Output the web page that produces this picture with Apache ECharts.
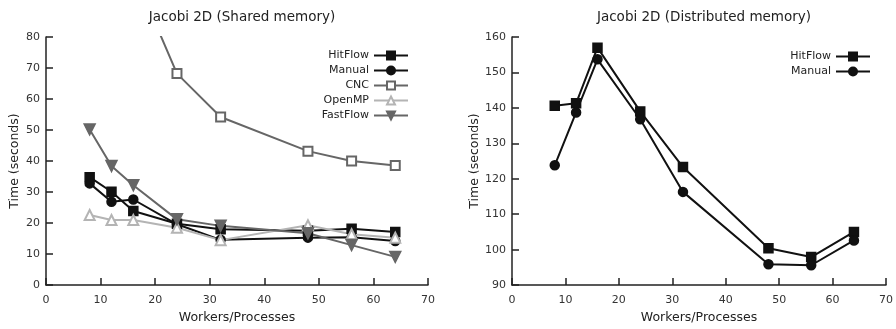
<!DOCTYPE html>
<html>
<head>
<meta charset="utf-8">
<script src="https://cdn.jsdelivr.net/npm/echarts@6/dist/echarts.min.js"></script>
<style>
  html, body { margin: 0; padding: 0; background: #fff; }
  #chart { width: 896px; height: 329px; }
</style>
</head>
<body>
<div id="chart"></div>
<script>
// workers / processes
var workers = [8, 12, 16, 24, 32, 48, 56, 64];

// shared memory (seconds)
var hitflowShared = [34.8, 30.1, 23.9, 19.8, 18.0, 17.5, 18.2, 17.1];
var manualShared = [32.8, 26.9, 27.6, 19.6, 14.6, 15.3, 15.4, 14.2];
var cncWorkers = [16, 24, 32, 48, 56, 64];
var cncShared = [101, 68.2, 54.2, 43.2, 40.0, 38.6];
var openmpShared = [22.6, 21.0, 21.0, 18.5, 14.5, 19.3, 16.4, 15.3];
var fastflowShared = [50.2, 38.4, 32.2, 21.2, 19.1, 16.7, 12.9, 9.1];

// distributed memory (seconds)
var hitflowDist = [140.6, 141.3, 157.0, 139.0, 123.3, 100.4, 97.9, 105.0];
var manualDist = [123.8, 138.7, 153.7, 136.8, 116.3, 95.9, 95.6, 102.6];

function pairs(xs, ys) {
  return xs.map(function (x, i) { return [x, ys[i]]; });
}

var font = 'DejaVu Sans';
var axisCol = '#222';

function xAx(idx) {
  return {
    type: 'value', gridIndex: idx, min: 0, max: 70, interval: 10,
    name: 'Workers/Processes', nameLocation: 'middle', nameGap: 25,
    nameTextStyle: { fontFamily: font, fontSize: 12.5, color: '#222' },
    axisLine: { lineStyle: { color: axisCol, width: 1.5 } },
    axisTick: { inside: true, length: 7, lineStyle: { color: axisCol, width: 1.5 } },
    axisLabel: { fontFamily: font, fontSize: 11, color: '#333', margin: 10 },
    splitLine: { show: false }
  };
}
function yAx(idx, min, max) {
  return {
    type: 'value', gridIndex: idx, min: min, max: max, interval: 10,
    name: 'Time (seconds)', nameLocation: 'middle', nameGap: idx === 0 ? 25 : 28,
    nameTextStyle: { fontFamily: font, fontSize: 12.5, color: '#222' },
    axisLine: { show: true, lineStyle: { color: axisCol, width: 1.5 } },
    axisTick: { show: true, inside: true, length: 7, lineStyle: { color: axisCol, width: 1.5 } },
    axisLabel: { fontFamily: font, fontSize: 11, color: '#333', margin: 6 },
    splitLine: { show: false }
  };
}
function line(name, idx, data, color, symbol, size, extra) {
  var s = {
    name: name, type: 'line', xAxisIndex: idx, yAxisIndex: idx,
    data: data, symbol: symbol, symbolSize: size, showSymbol: true,
    lineStyle: { color: color, width: 2 },
    itemStyle: { color: color, borderColor: color, borderWidth: 1.5 },
    emphasis: { disabled: true }, animation: false
  };
  if (extra) Object.assign(s, extra);
  return s;
}

var chart = echarts.init(document.getElementById('chart'));
var legendBase = {
  orient: 'vertical', align: 'right', itemWidth: 34, itemHeight: 10, itemGap: 4,
  textStyle: { fontFamily: font, fontSize: 11, color: '#222' },
  formatter: function (n) { return n.trim(); }
};
chart.setOption({
  animation: false,
  title: [
    { text: 'Jacobi 2D (Shared memory)', left: 237, top: 5, textAlign: 'center',
      textStyle: { fontFamily: font, fontSize: 13.5, fontWeight: 'normal', color: '#222' } },
    { text: 'Jacobi 2D (Distributed memory)', left: 699, top: 5, textAlign: 'center',
      textStyle: { fontFamily: font, fontSize: 13.5, fontWeight: 'normal', color: '#222' } }
  ],
  grid: [
    { left: 46, right: 468, top: 37, bottom: 43 },
    { left: 512, right: 9, top: 37, bottom: 43 }
  ],
  legend: [
    Object.assign({}, legendBase, { right: 482, top: 45, data: ['HitFlow', 'Manual', 'CNC', 'OpenMP', 'FastFlow'] }),
    Object.assign({}, legendBase, { right: 20, top: 46, data: ['HitFlow ', 'Manual '] })
  ],
  xAxis: [xAx(0), xAx(1)],
  yAxis: [yAx(0, 0, 80), yAx(1, 90, 160)],
  series: [
    line('HitFlow', 0, pairs(workers, hitflowShared), '#111', 'rect', 9),
    line('Manual', 0, pairs(workers, manualShared), '#111', 'circle', 9),
    line('CNC', 0, pairs(cncWorkers, cncShared), '#666', 'emptyRect', 9),
    line('OpenMP', 0, pairs(workers, openmpShared), '#b4b4b4', 'emptyTriangle', 10),
    line('FastFlow', 0, pairs(workers, fastflowShared), '#666', 'triangle', 11, { symbolRotate: 180 }),
    line('HitFlow ', 1, pairs(workers, hitflowDist), '#111', 'rect', 9),
    line('Manual ', 1, pairs(workers, manualDist), '#111', 'circle', 9)
  ]
});
</script>
</body>
</html>
